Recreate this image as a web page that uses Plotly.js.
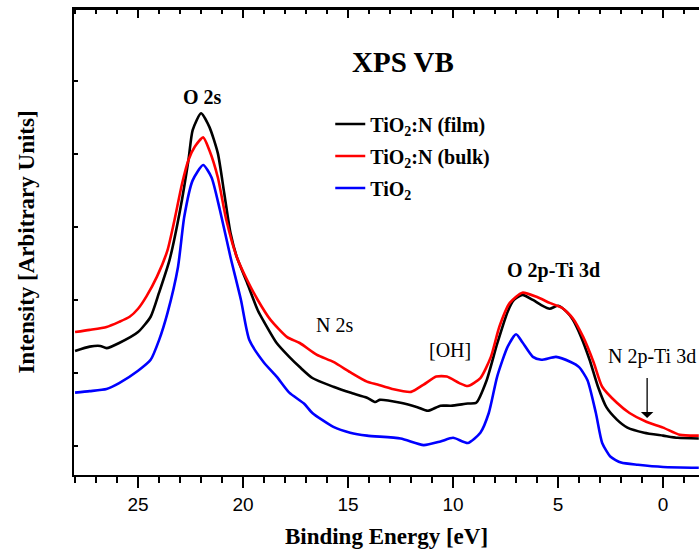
<!DOCTYPE html>
<html>
<head>
<meta charset="utf-8">
<script src="https://cdn.plot.ly/plotly-3.0.1.min.js"></script>
<style>html,body{margin:0;padding:0;background:#fff;overflow:hidden;}#chart{width:699px;height:555px;}</style>
</head>
<body>
<div id="chart"></div>
<script>
// Binding energy (eV) and intensity (arbitrary units)
const filmX = [28.0, 27.3, 26.8, 26.5, 25.9, 25.0, 24.4, 24.0, 23.5, 23.0, 22.6, 22.4, 22.0, 21.6, 21.2, 20.9, 20.6, 20.3, 19.8, 19.3, 19.0, 18.4, 17.8, 17.3, 16.7, 15.7, 14.9, 14.1, 13.7, 13.5, 12.5, 11.7, 11.2, 10.6, 10.1, 9.3, 8.9, 8.4, 7.9, 7.4, 7.1, 6.7, 6.2, 5.8, 5.4, 5.0, 4.6, 4.3, 3.9, 3.5, 3.1, 2.7, 2.2, 1.7, 0.9, 0.0, -0.7, -1.7];
const filmY = [1.30, 1.36, 1.37, 1.34, 1.41, 1.56, 1.77, 2.10, 2.55, 3.23, 3.92, 4.33, 4.56, 4.37, 4.01, 3.47, 2.92, 2.59, 2.23, 1.86, 1.70, 1.41, 1.22, 1.08, 0.93, 0.81, 0.73, 0.66, 0.60, 0.63, 0.59, 0.53, 0.48, 0.55, 0.55, 0.58, 0.59, 0.90, 1.40, 1.84, 2.00, 2.07, 2.00, 1.93, 1.88, 1.92, 1.84, 1.73, 1.49, 1.18, 0.81, 0.53, 0.36, 0.25, 0.18, 0.14, 0.11, 0.10];

const bulkX = [28.0, 27.3, 26.5, 25.9, 25.4, 25.0, 24.6, 24.1, 23.6, 23.3, 22.9, 22.6, 22.3, 21.9, 21.6, 21.2, 20.8, 20.3, 19.8, 19.3, 18.7, 17.9, 17.3, 16.5, 15.7, 14.9, 14.1, 13.6, 12.9, 12.0, 11.4, 10.8, 10.3, 9.7, 9.3, 8.7, 8.2, 7.8, 7.3, 6.7, 6.0, 5.4, 4.8, 4.3, 3.8, 3.3, 2.9, 2.2, 1.6, 0.8, 0.0, -0.8, -1.7];
const bulkY = [1.56, 1.59, 1.63, 1.70, 1.77, 1.88, 2.05, 2.32, 2.68, 3.05, 3.60, 3.92, 4.10, 4.23, 4.05, 3.68, 3.10, 2.59, 2.27, 2.00, 1.73, 1.49, 1.41, 1.25, 1.15, 1.01, 0.88, 0.84, 0.78, 0.74, 0.84, 0.95, 0.95, 0.86, 0.82, 0.93, 1.22, 1.63, 1.96, 2.10, 2.04, 1.96, 1.89, 1.75, 1.49, 1.14, 0.81, 0.59, 0.45, 0.33, 0.25, 0.15, 0.14];

const tio2X = [28.0, 27.3, 26.5, 25.9, 25.0, 24.4, 24.0, 23.6, 23.1, 22.8, 22.4, 21.9, 21.5, 21.1, 20.6, 20.1, 19.7, 19.0, 18.4, 17.8, 17.1, 16.7, 15.7, 14.9, 14.1, 12.5, 11.4, 10.6, 10.0, 9.3, 8.7, 8.3, 7.9, 7.4, 7.0, 6.7, 6.2, 5.8, 5.1, 4.4, 4.0, 3.6, 3.2, 2.9, 2.5, 2.0, 1.2, 0.0, -1.7];
const tio2Y = [0.73, 0.75, 0.78, 0.86, 1.03, 1.18, 1.45, 1.82, 2.45, 3.14, 3.64, 3.85, 3.68, 3.23, 2.59, 2.00, 1.45, 1.14, 0.95, 0.73, 0.58, 0.45, 0.26, 0.18, 0.14, 0.10, 0.01, 0.06, 0.11, 0.04, 0.18, 0.45, 0.95, 1.36, 1.53, 1.42, 1.22, 1.18, 1.22, 1.15, 1.08, 0.90, 0.45, 0.04, -0.15, -0.23, -0.26, -0.29, -0.30];

const seriesNames = ['TiO<sub>2</sub>:N (film)', 'TiO<sub>2</sub>:N (bulk)', 'TiO<sub>2</sub>'];
const seriesColors = ['#000000', '#ff0000', '#0000ff'];
const seriesAxes = ['x', 'x2', 'x3'];

const xMajorTicks = [25, 20, 15, 10, 5, 0];
const xTickText = ['25', '20', '15', '10', '5', '0'];

const serif = 'Liberation Serif, Times New Roman, serif';
const sans = 'Liberation Sans, Arial, sans-serif';

const xs = [filmX, bulkX, tio2X];
const ys = [filmY, bulkY, tio2Y];
const traces = xs.map((x, i) => ({
  x: x, y: ys[i], type: 'scatter', mode: 'lines',
  xaxis: seriesAxes[i], yaxis: 'y',
  name: seriesNames[i], legendgroup: 'g' + i,
  line: {color: seriesColors[i], width: 2.6, shape: 'spline', smoothing: 0.6}
}));

const xRange = [28.05, -1.71];

const layout = {
  width: 699, height: 555,
  margin: {l: 74, r: 0, t: 9, b: 80},
  paper_bgcolor: '#fff', plot_bgcolor: '#fff',
  showlegend: true,
  legend: {
    x: 0.41, y: 0.795, xanchor: 'left', yanchor: 'top',
    bgcolor: 'rgba(0,0,0,0)', borderwidth: 0,
    traceorder: 'grouped', tracegroupgap: 3,
    font: {family: serif, size: 20, color: '#000', weight: 'bold'}
  },
  xaxis: {
    range: xRange, autorange: false,
    tickvals: xMajorTicks, ticktext: xTickText,
    ticks: 'outside', ticklen: 11, tickwidth: 2, tickcolor: '#000',
    minor: {dtick: 1, tick0: 0, ticks: 'outside', ticklen: 6, tickwidth: 2, tickcolor: '#000', showgrid: false},
    showline: true, linewidth: 2, linecolor: '#000', mirror: true,
    showgrid: false, zeroline: false,
    tickfont: {family: sans, size: 19, color: '#000'},
    title: {text: '<b>Binding Energy [eV]</b>', font: {family: serif, size: 23, color: '#000'}, standoff: 14}
  },
  xaxis2: {
    overlaying: 'x', side: 'top', anchor: 'y',
    range: xRange, autorange: false,
    dtick: 5, tick0: 0, showticklabels: false,
    ticks: 'inside', ticklen: 9, tickwidth: 2, tickcolor: '#000',
    showline: false, showgrid: false, zeroline: false
  },
  xaxis3: {
    overlaying: 'x', side: 'top', anchor: 'y',
    range: xRange, autorange: false,
    dtick: 1, tick0: 0, showticklabels: false,
    ticks: 'inside', ticklen: 5, tickwidth: 2, tickcolor: '#000',
    showline: false, showgrid: false, zeroline: false
  },
  yaxis: {
    range: [-0.40, 5.99], autorange: false,
    dtick: 1, tick0: 0,
    ticks: 'inside', ticklen: 4, tickwidth: 2, tickcolor: '#000',
    showticklabels: false,
    showline: true, linewidth: 2, linecolor: '#000', mirror: false,
    showgrid: false, zeroline: false,
    title: {text: '<b>Intensity [Arbitrary Units]</b>', font: {family: serif, size: 23, color: '#000'}, standoff: 31}
  },
  shapes: [
    {type: 'line', xref: 'paper', yref: 'paper', x0: 0, x1: 1, y0: 1, y1: 1, line: {color: '#000', width: 2}, layer: 'above'}
  ],
  annotations: [
    {x: 12.38, y: 5.26, xref: 'x', yref: 'y', text: '<b>XPS VB</b>', showarrow: false, font: {family: serif, size: 29, color: '#000'}},
    {x: 21.95, y: 4.78, xref: 'x', yref: 'y', text: '<b>O 2s</b>', showarrow: false, font: {family: serif, size: 20, color: '#000'}},
    {x: 15.67, y: 1.66, xref: 'x', yref: 'y', text: 'N 2s', showarrow: false, font: {family: serif, size: 20, color: '#000'}},
    {x: 10.14, y: 1.32, xref: 'x', yref: 'y', text: '[OH]', showarrow: false, font: {family: serif, size: 20, color: '#000'}},
    {x: 5.24, y: 2.41, xref: 'x', yref: 'y', text: '<b>O 2p-Ti 3d</b>', showarrow: false, font: {family: serif, size: 20, color: '#000'}},
    {x: 0.52, y: 1.22, xref: 'x', yref: 'y', text: 'N 2p-Ti 3d', showarrow: false, font: {family: serif, size: 20, color: '#000'}},
    {x: 0.76, y: 0.38, xref: 'x', yref: 'y', ax: 0.76, ay: 0.95, axref: 'x', ayref: 'y', text: '', showarrow: true,
     arrowhead: 1, arrowsize: 1.6, arrowwidth: 1.3, arrowcolor: '#000', standoff: 0}
  ]
};

Plotly.newPlot('chart', traces, layout, {displayModeBar: false, staticPlot: true});
</script>
</body>
</html>
